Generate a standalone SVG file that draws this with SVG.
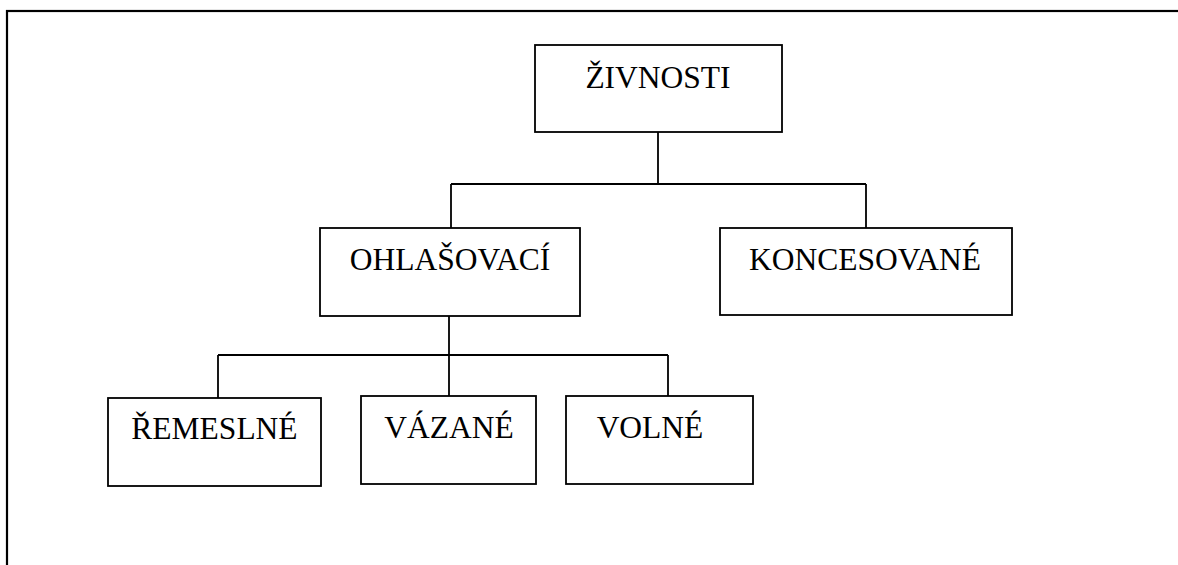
<svg xmlns="http://www.w3.org/2000/svg" width="1178" height="565" viewBox="0 0 1178 565">
<style>
.box{fill:#fff;stroke:#000;stroke-width:1.8}
.lbl{font-family:"Liberation Serif","Times New Roman",serif;font-size:31.5px;fill:#000;text-anchor:middle}
.con{fill:none;stroke:#000;stroke-width:1.8}
</style>
<rect x="0" y="0" width="1178" height="565" fill="#fff"/>
<rect x="7" y="11" width="1220" height="620" fill="none" stroke="#000" stroke-width="2.2"/>
<g id="connectors">
<path class="con" d="M658 132 V184 M451 184 H866 M451 184 V228 M866 184 V228"/>
<path class="con" d="M449 316 V355 M218 355 H668 M218 355 V398 M449 355 V396 M668 355 V396"/>
</g>
<g id="zivnosti"><rect class="box" x="535" y="45" width="247" height="87"/><text class="lbl" x="658" y="88">ŽIVNOSTI</text></g>
<g id="ohlasovaci"><rect class="box" x="320" y="228" width="260" height="88"/><text class="lbl" x="450" y="270">OHLAŠOVACÍ</text></g>
<g id="koncesovane"><rect class="box" x="720" y="228" width="292" height="87"/><text class="lbl" x="865" y="270">KONCESOVANÉ</text></g>
<g id="remeslne"><rect class="box" x="108" y="398" width="213" height="88"/><text class="lbl" x="214.5" y="439">ŘEMESLNÉ</text></g>
<g id="vazane"><rect class="box" x="361" y="396" width="175" height="88"/><text class="lbl" x="449" y="438">VÁZANÉ</text></g>
<g id="volne"><rect class="box" x="566" y="396" width="187" height="88"/><text class="lbl" x="650" y="438">VOLNÉ</text></g>
</svg>
